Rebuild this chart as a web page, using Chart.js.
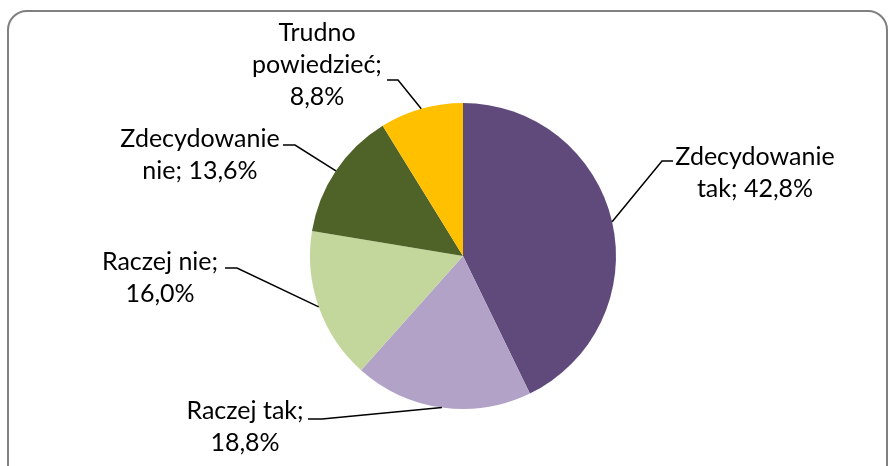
<!DOCTYPE html>
<html>
<head>
<meta charset="utf-8">
<script src="https://cdn.jsdelivr.net/npm/chart.js@4/dist/chart.umd.min.js"></script>
<style>
    html, body { margin: 0; padding: 0; background: #fff; }
    #wrap { position: relative; width: 892px; height: 466px; overflow: hidden; }
    #frame {
        position: absolute; left: 7px; top: 10px; width: 881px; height: 480px;
        border: 2px solid #808080; border-radius: 20px; box-sizing: border-box;
    }
    #myChart { position: absolute; left: 0; top: 0; }
</style>
</head>
<body>
<div id="wrap">
    <div id="frame"></div>
    <canvas id="myChart" width="892" height="466"></canvas>
</div>
<script>
    // chart data
    var categories = ['Zdecydowanie tak', 'Raczej tak', 'Raczej nie', 'Zdecydowanie nie', 'Trudno powiedzieć'];
    var values = [42.8, 18.8, 16.0, 13.6, 8.8];
    var colors = ['#604A7B', '#B2A2C7', '#C3D69B', '#4F6228', '#FFC000'];

    // label placement: text centre, first line y, words per line, leader elbow
    var labelLayout = [
        { x: 755, y: 157, words: [1, 2], ex: 673, ey: 161, hx: 662 },
        { x: 245, y: 411, words: [2, 1], ex: 308, ey: 419, hx: 322 },
        { x: 160, y: 262, words: [2, 1], ex: 225, ey: 268, hx: 237 },
        { x: 200, y: 139, words: [1, 2], ex: 283, ey: 145, hx: 295 },
        { x: 317, y: 33, words: [1, 1, 1], ex: 387, ey: 80, hx: 398 }
    ];
    var lineHeight = 32;
    var labelFont = '25px Lato, "Open Sans", sans-serif';

    function fmt(v) {
        return v.toFixed(1).replace('.', ',') + '%';
    }

    var sliceLabels = {
        id: 'sliceLabels',
        afterDatasetsDraw: function (chart) {
            var ctx = chart.ctx;
            var arcs = chart.getDatasetMeta(0).data;
            ctx.save();
            arcs.forEach(function (arc, i) {
                var lay = labelLayout[i];
                var mid = (arc.startAngle + arc.endAngle) / 2;
                var px = arc.x + Math.cos(mid) * arc.outerRadius;
                var py = arc.y + Math.sin(mid) * arc.outerRadius;

                // leader line
                ctx.strokeStyle = '#000';
                ctx.lineWidth = 1.5;
                ctx.beginPath();
                ctx.moveTo(lay.ex, lay.ey);
                ctx.lineTo(lay.hx, lay.ey);
                ctx.lineTo(px, py);
                ctx.stroke();

                // text
                var words = (categories[i] + '; ' + fmt(values[i])).split(' ');
                var lines = [];
                var k = 0;
                lay.words.forEach(function (n) {
                    lines.push(words.slice(k, k + n).join(' '));
                    k += n;
                });
                ctx.fillStyle = '#000';
                ctx.font = labelFont;
                ctx.textAlign = 'center';
                ctx.textBaseline = 'middle';
                lines.forEach(function (t, j) {
                    ctx.fillText(t, lay.x, lay.y + j * lineHeight);
                });
            });
            ctx.restore();
        }
    };

    var ctx = document.getElementById('myChart').getContext('2d');
    var myChart = new Chart(ctx, {
        type: 'pie',
        data: {
            labels: categories,
            datasets: [{
                data: values,
                backgroundColor: colors,
                borderWidth: 0
            }]
        },
        options: {
            responsive: false,
            animation: false,
            layout: {
                padding: { left: 310, right: 276, top: 103, bottom: 57 }
            },
            plugins: {
                legend: { display: false },
                tooltip: { enabled: false }
            }
        },
        plugins: [sliceLabels]
    });
</script>
</body>
</html>
